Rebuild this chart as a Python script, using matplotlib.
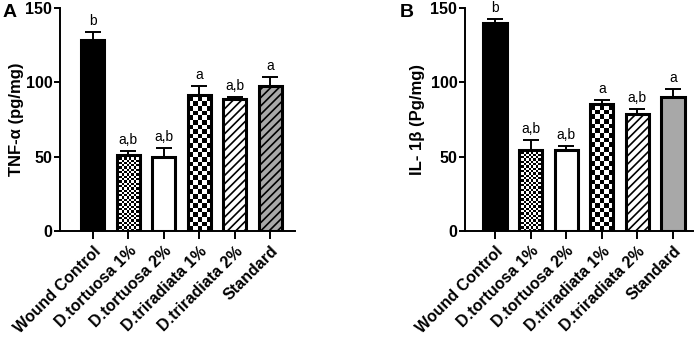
import numpy as np
import matplotlib
matplotlib.use("Agg")
import matplotlib.pyplot as plt

plt.rcParams['font.family'] = ['Liberation Sans', 'DejaVu Sans']
plt.rcParams['hatch.linewidth'] = 1.2

groups = ["Wound Control", "D.tortuosa 1%", "D.tortuosa 2%",
          "D.triradiata 1%", "D.triradiata 2%", "Standard"]

tnf_mean = [128.4, 51.1, 50.0, 91.7, 88.8, 97.7]
tnf_err = [5.2, 2.7, 5.8, 5.6, 1.5, 6.1]
tnf_sig = ["b", "a,b", "a,b", "a", "a,b", "a"]

il_mean = [140.1, 54.5, 54.5, 85.4, 78.9, 90.3]
il_err = [2.3, 6.7, 2.7, 2.7, 3.1, 5.0]
il_sig = ["b", "a,b", "a,b", "a", "a,b", "a"]

yticks = [0, 50, 100, 150]

# style per group: (fill, pattern)
styles_A = [("black", None), ("white", "fine"), ("white", None),
            ("white", "coarse"), ("white", "////"), ("#a8a8a8", "////")]
styles_B = [("black", None), ("white", "fine"), ("white", None),
            ("white", "coarse"), ("white", "////"), ("#a8a8a8", None)]

fig = plt.figure(figsize=(6.99, 3.44), dpi=100)
axA = fig.add_axes([60/699, 1-231/344, 235/699, 223/344])
axB = fig.add_axes([465/699, 1-231/344, 228/699, 223/344])

W = 0.65


def checker(ax, x, h, ncols, clip):
    cell = W / ncols
    bbox = ax.get_window_extent()
    x0, x1 = ax.get_xlim()
    y0, y1 = ax.get_ylim()
    px_x = bbox.width / (x1 - x0)
    px_y = bbox.height / (y1 - y0)
    cell_y = cell * px_x / px_y
    nrows = max(1, int(round(h / cell_y)))
    arr = np.indices((nrows, ncols)).sum(axis=0) % 2
    im = ax.imshow(arr, cmap="gray", vmin=0, vmax=1, interpolation="nearest",
                   extent=(x - W/2, x + W/2, 0, nrows * cell_y),
                   origin="lower", aspect="auto", zorder=2.5)
    im.set_clip_path(clip)


def panel(ax, means, errs, sigs, styles, ylabel, xlim, letter, lx, ylx):
    ax.set_xlim(*xlim)
    ax.set_ylim(0, 150)
    x = np.arange(len(groups))
    ax.errorbar(x, means, yerr=[np.zeros(len(errs)), errs], fmt="none",
                ecolor="black", elinewidth=1.4, capsize=5.5, capthick=1.4,
                zorder=1)
    for i, (m, (fc, pat)) in enumerate(zip(means, styles)):
        hatch = pat if pat == "////" else None
        b = ax.bar(x[i], m, width=W, color=fc, edgecolor="black",
                   linewidth=0, hatch=hatch, zorder=2)[0]
        if pat in ("fine", "coarse"):
            checker(ax, x[i], m, 10 if pat == "fine" else 5, b)
        ax.bar(x[i], m, width=W, fill=False, edgecolor="black",
               linewidth=2.2, zorder=3)
    for i, (m, e, s) in enumerate(zip(means, errs, sigs)):
        ax.annotate(s, (x[i], m + e), xytext=(0, 3), textcoords="offset points",
                    ha="center", va="bottom", fontsize=10)
    ax.set_xlim(*xlim)
    ax.set_ylim(0, 150)
    ax.set_yticks(yticks)
    ax.set_yticklabels([str(t) for t in yticks], fontweight="bold", fontsize=11.5)
    ax.set_xticks(x)
    ax.set_xticklabels(groups, rotation=45, ha="right", rotation_mode="anchor",
                       fontweight="bold", fontsize=11.5)
    ax.tick_params(axis="both", width=1.4, length=4, pad=1.5)
    ax.tick_params(axis="x", length=6, pad=3)
    for sp in ["top", "right"]:
        ax.spines[sp].set_visible(False)
    for sp in ["left", "bottom"]:
        ax.spines[sp].set_linewidth(1.4)
    ax.set_ylabel(ylabel, fontweight="bold", fontsize=12)
    ax.yaxis.set_label_coords(ylx, 0.5)
    fig.text(lx, 1 - 4/344, letter, fontweight="bold", fontsize=14,
             ha="left", va="top")


panel(axA, tnf_mean, tnf_err, tnf_sig, styles_A, "TNF-α (pg/mg)",
      (-0.93, 5.7), "A", 3/699, -0.155)
panel(axB, il_mean, il_err, il_sig, styles_B, "IL- 1β (Pg/mg)",
      (-0.84, 5.56), "B", 400/699, -0.175)

fig.savefig("out.png", dpi=100)
